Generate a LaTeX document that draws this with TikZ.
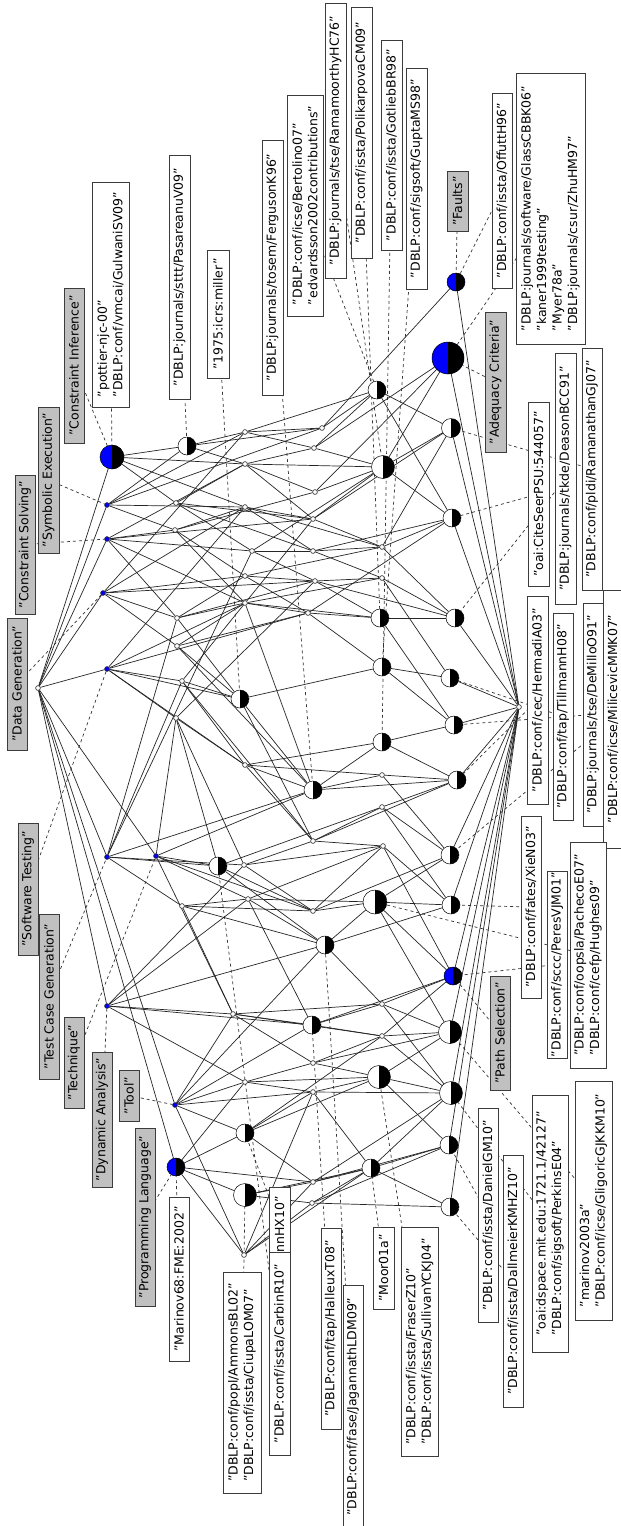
\documentclass[tikz,border=0pt]{standalone}
\usepackage{fontspec}
\setmainfont{DejaVu Sans}
\pgfdeclarelayer{paper}
\pgfdeclarelayer{wires}
\pgfsetlayers{paper,wires,main}
\definecolor{attrgray}{RGB}{192,192,192}
\definecolor{boxline}{RGB}{60,60,60}
\begin{document}
\begin{tikzpicture}[x=1pt,y=-1pt,
  tiny/.style={circle, draw=black!85, fill=white, inner sep=0pt, minimum size=4.8pt, line width=0.6pt},
  tinyb/.style={tiny, fill=blue},
  half/.style={circle, draw=black, fill=white, inner sep=0pt, minimum size=#1, line width=0.5pt,
    path picture={\fill[black] (path picture bounding box.north) rectangle (path picture bounding box.south east);}},
  halfb/.style={half=#1, fill=blue},
  edge/.style={draw=black!85, line width=0.7pt},
  link/.style={draw=black!80, dash pattern=on 3pt off 3pt, line width=0.7pt},
  lbl/.style={draw=boxline, line width=0.9pt, rotate=90, inner sep=0pt, align=left,
    font=\fontsize{12.5}{15.5}\selectfont},
  alab/.style={lbl, fill=attrgray},
  olab/.style={lbl, fill=white}]

\begin{pgfonlayer}{paper}
\fill[white] (0,0) rectangle (621,1526);
\end{pgfonlayer}
\useasboundingbox (0,0) rectangle (621,1526);

% ---------- lattice nodes ----------
\node[tiny] (T) at (38,688) {};
% attribute concepts
\node[halfb=24pt] (a1) at (112,457) {};
\node[tinyb] (a2) at (107,505) {};
\node[tinyb] (a3) at (107,539) {};
\node[tinyb] (a4) at (103,593) {};
\node[tinyb] (a5) at (107,669) {};
\node[tinyb] (a6) at (107,857) {};
\node[tinyb] (a7) at (156,856) {};
\node[tinyb] (a8) at (107,1006) {};
\node[tinyb] (a9) at (175,1105) {};
\node[halfb=18pt] (a10) at (176,1167) {};
% second rank
\node[half=18pt] (b1) at (187,446) {};
\node[tiny] (b2) at (176,503) {};
\node[tiny] (b3) at (175,530) {};
\node[tiny] (b4) at (177,618) {};
\node[tiny] (b5) at (177,646) {};
\node[tiny] (b6) at (182,681) {};
\node[tiny] (b7) at (176,718) {};
\node[tiny] (b8) at (182,906) {};
% third rank
\node[tiny] (c1) at (245,432) {};
\node[tiny] (c2) at (245,464) {};
\node[tiny] (c3) at (245,507) {};
\node[tiny] (c4) at (252,551) {};
\node[tiny] (c5) at (245,576) {};
\node[tiny] (c6) at (245,603) {};
\node[half=18pt] (c7) at (240,699) {};
\node[tiny] (c8) at (245,765) {};
\node[tiny] (c9) at (244,865) {};
\node[half=18pt] (c10) at (218,866) {};
\node[tiny] (c11) at (248,899) {};
\node[tiny] (c12) at (233,1014) {};
\node[tiny] (c13) at (245,1082) {};
\node[half=18pt] (c14) at (245,1133) {};
\node[half=23pt] (c15) at (245,1195) {};
\node[tiny] (c16) at (244,1255) {};
% fourth rank
\node[tiny] (d1) at (322,428) {};
\node[tiny] (d2) at (314,448) {};
\node[tiny] (d3) at (315,492) {};
\node[tiny] (d4) at (313,519) {};
\node[tiny] (d5) at (313,551) {};
\node[tiny] (d6) at (315,581) {};
\node[tiny] (d7) at (308,613) {};
\node[half=18pt] (d8) at (313,790) {};
\node[tiny] (d9) at (313,841) {};
\node[tiny] (d10) at (313,911) {};
\node[half=18pt] (d11) at (325,945) {};
\node[half=18pt] (d13) at (312,1025) {};
\node[tiny] (d14) at (313,1063) {};
\node[tiny] (d15) at (313,1092) {};
\node[tiny] (d16) at (313,1182) {};
\node[tiny] (d17) at (312,1203) {};
% fifth rank
\node[half=18pt] (e1) at (377,390) {};
\node[half=23pt] (e2) at (383,467) {};
\node[tiny] (e3) at (382,547) {};
\node[tiny] (e4) at (382,578) {};
\node[half=18pt] (e5) at (380,618) {};
\node[half=18pt] (e6) at (382,667) {};
\node[half=18pt] (e7) at (382,742) {};
\node[tiny] (e8) at (382,775) {};
\node[tiny] (e9) at (382,807) {};
\node[tiny] (e10) at (383,846) {};
\node[half=24pt] (e11) at (375,902) {};
\node[tiny] (e12) at (382,1004) {};
\node[tiny] (e13) at (382,1036) {};
\node[half=23pt] (e14) at (379,1077) {};
\node[half=18pt] (e15) at (371,1168) {};
% sixth rank
\node[halfb=18pt] (f1) at (456,282) {};
\node[halfb=32pt] (f2) at (448,358) {};
\node[half=19pt] (f3) at (451,428) {};
\node[half=18pt] (f4) at (452,518) {};
\node[half=18pt] (f5) at (455,618) {};
\node[half=18pt] (f6) at (450,678) {};
\node[half=18pt] (f7) at (454,725) {};
\node[half=18pt] (f8) at (457,780) {};
\node[half=18pt] (f9) at (450,855) {};
\node[half=18pt] (f10) at (451,905) {};
\node[halfb=18pt] (f11) at (453,976) {};
\node[half=23pt] (f12) at (450,1032) {};
\node[half=23pt] (f13) at (451,1093) {};
\node[half=18pt] (f14) at (449,1145) {};
\node[half=18pt] (f15) at (450,1207) {};
% bottom
\node[tiny] (B) at (519,707) {};

% ---------- attribute labels ----------
\node[alab, minimum width=155pt, minimum height=20pt] (Lci) at (74,365.5) {"Constraint Inference"};
\node[alab, minimum width=146pt, minimum height=21pt] (Lse) at (48.5,480) {"Symbolic Execution"};
\node[alab, minimum width=139pt, minimum height=20pt] (Lcs) at (25,544.5) {"Constraint Solving"};
\node[alab, minimum width=132pt, minimum height=20pt] (Ldg) at (17,684) {"Data Generation"};
\node[alab, minimum width=132pt, minimum height=20pt] (Lst) at (28,889) {"Software Testing"};
\node[alab, minimum width=165pt, minimum height=20pt] (Ltc) at (49,996.5) {"Test Case Generation"};
\node[alab, minimum width=91pt, minimum height=20pt] (Lte) at (74,1062.5) {"Technique"};
\node[alab, minimum width=135pt, minimum height=20pt] (Lda) at (102,1119.5) {"Dynamic Analysis"};
\node[alab, minimum width=51pt, minimum height=20pt] (Lto) at (129,1095.5) {"Tool"};
\node[alab, minimum width=178pt, minimum height=20pt] (Lpl) at (145,1217) {"Programming Language"};
\node[alab, minimum width=114pt, minimum height=20pt] (Lps) at (500,1033) {"Path Selection"};
\node[alab, minimum width=140pt, minimum height=21pt] (Lac) at (495.5,382) {"Adequacy Criteria"};
\node[alab, minimum width=60pt, minimum height=21pt] (Lfa) at (457.5,201) {"Faults"};

% ---------- object labels ----------
\node[olab, minimum width=225pt, minimum height=37pt] (O1) at (110.5,294.5) {"pottier-njc-00"\\"DBLP:conf/vmcai/GulwaniSV09"};
\node[olab, minimum width=244pt, minimum height=21pt] (O2) at (179.5,277) {"DBLP:journals/sttt/PasareanuV09"};
\node[olab, minimum width=128pt, minimum height=22pt] (O3) at (218,314) {"1975:icrs:miller"};
\node[olab, minimum width=255pt, minimum height=21pt] (O4) at (272.5,267.5) {"DBLP:journals/tosem/FergusonK96"};
\node[olab, minimum width=221pt, minimum height=36pt] (O5) at (305,205.5) {"DBLP:conf/icse/Bertolino07"\\"edvardsson2002contributions"};
\node[olab, minimum width=275pt, minimum height=21pt] (O6) at (335.5,140.5) {"DBLP:journals/tse/RamamoorthyHC76"};
\node[olab, minimum width=251pt, minimum height=21pt] (O7) at (361.5,132.5) {"DBLP:conf/issta/PolikarpovaCM09"};
\node[olab, minimum width=210pt, minimum height=21pt] (O8) at (391.5,145) {"DBLP:conf/issta/GotliebBR98"};
\node[olab, minimum width=221pt, minimum height=21pt] (O9) at (416.5,178.5) {"DBLP:conf/sigsoft/GuptaMS98"};
\node[olab, minimum width=195pt, minimum height=20pt] (O10) at (502,190.5) {"DBLP:conf/issta/OffuttH96"};
\node[olab, minimum width=271pt, minimum height=69pt] (O11) at (550.5,208.5) {"DBLP:journals/software/GlassCBBK06"\\"kaner1999testing"\\"Myer78a"\\"DBLP:journals/csur/ZhuHM97"};
\node[olab, minimum width=184pt, minimum height=21pt] (O12) at (538.5,494) {"oai:CiteSeerPSU:544057"};
\node[olab, minimum width=251pt, minimum height=21pt] (O13) at (565.5,478.5) {"DBLP:journals/tkde/DeasonBCC91"};
\node[olab, minimum width=242pt, minimum height=20pt] (O14) at (592,469) {"DBLP:conf/pldi/RamanathanGJ07"};
\node[olab, minimum width=208pt, minimum height=21pt] (O15) at (537.5,700) {"DBLP:conf/cec/HermadiA03"};
\node[olab, minimum width=207pt, minimum height=20pt] (O16) at (563,716.5) {"DBLP:conf/tap/TillmannH08"};
\node[olab, minimum width=223pt, minimum height=20pt] (O17) at (593,714.5) {"DBLP:journals/tse/DeMilloO91"};
\node[olab, minimum width=258pt, minimum height=20pt] (O18) at (613,719) {"DBLP:conf/icse/MilicevicMMK07"};
\node[olab, minimum width=182pt, minimum height=20pt] (O19) at (531,907) {"DBLP:conf/fates/XieN03"};
\node[olab, minimum width=187pt, minimum height=20pt] (O20) at (557,964.5) {"DBLP:conf/sccc/PeresVJM01"};
\node[olab, minimum width=226pt, minimum height=36pt] (O21) at (588,955) {"DBLP:conf/oopsla/PachecoE07"\\"DBLP:conf/cefp/Hughes09"};
\node[olab, minimum width=214pt, minimum height=20pt] (O22) at (488,1215) {"DBLP:conf/issta/DanielGM10"};
\node[olab, minimum width=252pt, minimum height=20pt] (O23) at (513,1281) {"DBLP:conf/issta/DallmeierKMHZ10"};
\node[olab, minimum width=257pt, minimum height=36pt] (O24) at (550,1223.5) {"oai:dspace.mit.edu:1721.1/42127"\\"DBLP:conf/sigsoft/PerkinsE04"};
\node[olab, minimum width=239pt, minimum height=37pt] (O25) at (593.5,1200.5) {"marinov2003a"\\"DBLP:conf/icse/GligoricGJKKM10"};
\node[olab, minimum width=164pt, minimum height=20pt] (O26) at (179,1279) {"Marinov68:FME:2002"};
\node[olab, minimum width=221pt, minimum height=38pt] (O27) at (242,1382.5) {"DBLP:conf/popl/AmmonsBL02"\\"DBLP:conf/issta/CiupaLOM07"};
\node[olab, minimum width=75pt, minimum height=21pt] (O28) at (279.5,1224.5) {nnHX10"};
\node[olab, minimum width=203pt, minimum height=21pt] (O29) at (279.5,1353.5) {"DBLP:conf/issta/CarbinR10"};
\node[olab, minimum width=201pt, minimum height=20pt] (O30) at (331,1328.5) {"DBLP:conf/tap/HalleuxT08"};
\node[olab, minimum width=243pt, minimum height=20pt] (O31) at (353,1406.5) {"DBLP:conf/fase/JagannathLDM09"};
\node[olab, minimum width=82pt, minimum height=21pt] (O32) at (383.5,1268) {"Moor01a"};
\node[olab, minimum width=229pt, minimum height=37pt] (O33) at (419.5,1341.5) {"DBLP:conf/issta/FraserZ10"\\"DBLP:conf/issta/SullivanYCKJ04"};

\begin{pgfonlayer}{wires}
% dashed links from labels to their concepts
\foreach \l/\n in {Lci/a1, Lse/a2, Lcs/a3, Ldg/a4, Lst/a5, Ltc/a6, Lte/a7, Lda/a8, Lto/a9, Lpl/a10,
  Lps/f11, Lac/f2, Lfa/f1,
  O1/a1, O2/b1, O3/c7, O4/d8, O5/e1, O6/e2, O7/e5, O8/e7, O9/e6, O10/f1, O11/f2,
  O12/f4, O13/f5, O14/f3, O15/f8, O16/f6, O17/f7, O18/f9, O19/f10, O20/f11, O21/e11,
  O22/f14, O23/f15, O24/f13, O25/f12, O26/a10, O27/c15, O28/c14, O29/c10, O30/d13,
  O31/d11, O32/e15, O33/e14}
  \draw[link] (\l.center) -- (\n);
% lattice order: top to the attribute concepts
\foreach \v in {a1,a2,a3,a4,a5,a6,a7,a8,a9,a10}
  \draw[edge] (T) -- (\v);
% lattice order: attribute concepts and the second rank
\foreach \u/\v in {a1/b1, a1/b2, a1/c2, a1/c3, a2/b1, a2/b3, a2/c3, a2/c1, a2/d1,
  a3/b3, a3/c4, a3/b4, a3/c6, a3/c2, a3/d4,
  a4/b4, a4/b5, a4/c5, a4/c1, a4/c3, a4/d6,
  a5/b6, a5/b7, a5/c8, a5/c3, a5/c6, a5/d7, a5/c7,
  a6/b8, a6/c9, a6/c10, a6/c4, a6/b4, a6/b6, a6/d8,
  a7/c10, a7/c12, a7/c11, a7/b7, a7/d8, a7/d10,
  a8/c12, a8/c13, a8/d13, a8/c9, a8/d11, a8/c11,
  a9/c13, a9/c14, a9/c16, a9/d11, a9/d15, a9/c12, a9/d13,
  a10/c14, a10/c15, a10/c16, a10/c13, a10/d16,
  b1/c1, b1/c2, b1/d1, b2/c2, b2/c4, b2/d5, b2/d4, b3/c3, b3/c5, b3/d3, b3/c6,
  b4/c5, b4/c6, b4/c7, b4/d6, b5/c6, b5/c7, b5/d7, b5/d8, b6/c7, b6/c8, b6/d4, b6/d9,
  b7/c8, b7/c9, b7/d6, b7/c10, b8/c11, b8/c12, b8/d10, b8/d11}
  \draw[edge] (\u) -- (\v);
% lattice order: third and fourth ranks
\foreach \u/\v in {c1/d1, c1/d2, c1/e1, c2/d2, c2/d3, c2/d4, c2/e2, c3/d4, c3/d5, c3/e3,
  c4/d5, c4/d6, c4/e2, c5/d6, c5/d7, c5/e3, c6/d7, c6/d8, c6/e4, c6/e5,
  c7/d8, c7/e6, c7/d9, c8/d8, c8/d9, c8/e8, c8/e7, c9/d9, c9/d10, c9/e10,
  c10/d10, c10/d11, c10/e9, c11/d11, c11/d13, c11/e10, c11/e11,
  c12/d13, c12/d14, c12/e12, c12/e13, c13/d14, c13/d15, c13/e14,
  c14/d15, c14/d16, c14/e13, c14/e14, c15/d16, c15/d17, c15/e15,
  c16/d17, c16/d15, c16/e15, c16/d16,
  d1/e1, d1/f1, d2/e1, d2/e2, d2/f2, d3/e2, d3/f2, d4/e3, d4/e2, d4/f3,
  d5/e3, d5/e4, d5/f4, d6/e4, d6/e5, d6/f5, d7/e5, d7/e6, d7/f4,
  d8/e7, d8/e8, d8/f8, d9/e9, d9/e10, d9/f8, d10/e10, d10/e11, d10/f9,
  d11/e11, d11/e12, d11/f10, d13/e12, d13/e13, d13/f11, d14/e13, d14/e14, d14/f12,
  d15/e14, d15/e15, d15/f13, d16/e15, d16/f13, d16/f14, d17/e15, d17/f14, d17/f15}
  \draw[edge] (\u) -- (\v);
% lattice order: fifth rank, sixth rank and bottom
\foreach \u/\v in {e1/f3, e1/f4, e2/f3, e2/f4, e2/f2, e3/f4, e3/f5, e3/f3,
  e4/f5, e4/f6, e5/f5, e5/f7, e6/f6, e6/f7, e7/f7, e7/f8, e8/f8, e8/f9,
  e9/f9, e9/f10, e9/f8, e10/f10, e10/f11, e11/f10, e11/f12, e11/f9, e11/f11,
  e12/f11, e12/f12, e12/f13, e13/f12, e13/f13, e13/f11,
  e14/f13, e14/f14, e14/f12, e15/f14, e15/f15, e15/f13,
  f1/B, f2/B, f3/B, f4/B, f5/B, f6/B, f7/B, f8/B, f9/B, f10/B, f11/B, f12/B, f13/B, f14/B, f15/B}
  \draw[edge] (\u) -- (\v);
\end{pgfonlayer}
\end{tikzpicture}
\end{document}
